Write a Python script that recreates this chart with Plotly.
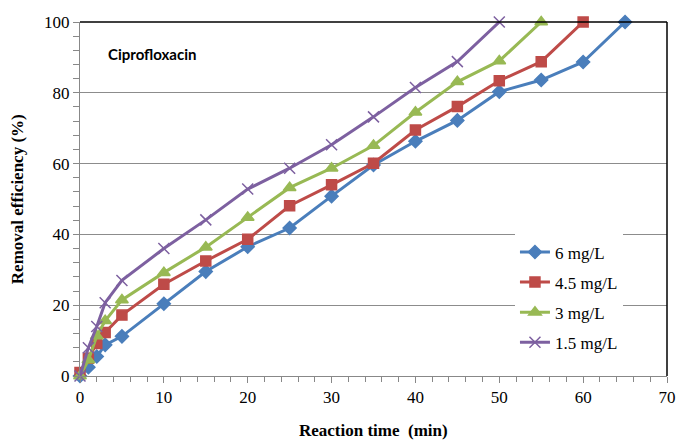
import plotly.graph_objects as go

time_6 = [0, 1, 2, 3, 5, 10, 15, 20, 25, 30, 35, 40, 45, 50, 55, 60, 65]
eff_6 = [0, 2.5, 5.5, 8.8, 11.2, 20.4, 29.5, 36.5, 41.8, 50.8, 59.6, 66.3, 72.2, 80.3, 83.6, 88.7, 100]

time_45 = [0, 1, 2, 3, 5, 10, 15, 20, 25, 30, 35, 40, 45, 50, 55, 60]
eff_45 = [1, 5, 9.2, 12.3, 17.2, 25.9, 32.5, 38.6, 48.1, 54, 60.1, 69.5, 76.1, 83.4, 88.8, 100]

time_3 = [0, 1, 2, 3, 5, 10, 15, 20, 25, 30, 35, 40, 45, 50, 55]
eff_3 = [0, 4.5, 11.3, 15.6, 21.5, 29.2, 36.4, 44.8, 53.2, 58.7, 65.1, 74.5, 83.1, 89, 100]

time_15 = [0, 1, 2, 3, 5, 10, 15, 20, 25, 30, 35, 40, 45, 50]
eff_15 = [0, 8, 14, 20.7, 27, 36, 44.1, 52.8, 58.7, 65.3, 73.2, 81.5, 88.8, 100]

series = [
    ("6 mg/L", time_6, eff_6, "#4A7EBB", "diamond", 10),
    ("4.5 mg/L", time_45, eff_45, "#BE4B48", "square", 10),
    ("3 mg/L", time_3, eff_3, "#98B954", "triangle-up", 11),
    ("1.5 mg/L", time_15, eff_15, "#7D60A0", "x-thin-open", 11),
]

fig = go.Figure()
for name, t, y, c, sym, sz in series:
    fig.add_trace(go.Scatter(
        x=t, y=y, name=name, mode="lines+markers", legendgroup=name,
        line=dict(color=c, width=3),
        marker=dict(symbol=sym, size=sz, color=c, line=dict(color=c, width=1.5)),
        cliponaxis=False,
    ))

serif = "Liberation Serif"
fig.update_layout(
    width=678, height=441,
    margin=dict(l=80, r=11, t=22, b=65),
    paper_bgcolor="white", plot_bgcolor="white",
    font=dict(family=serif, size=15, color="black"),
    showlegend=True,
    legend=dict(x=0.741, y=0.40, xanchor="left", yanchor="top",
                bgcolor="white", font=dict(family=serif, size=17, color="black"),
                tracegroupgap=5, itemwidth=30),
    xaxis=dict(range=[0, 70], dtick=10, showgrid=False, zeroline=False, automargin=False,
               showline=True, linecolor="#888888", linewidth=1,
               ticks="outside", ticklen=6, tickcolor="#888888",
               minor=dict(dtick=2, ticks="outside", ticklen=5, tickcolor="#888888"),
               tickfont=dict(family=serif, size=17)),
    yaxis=dict(range=[0, 100], dtick=20, showgrid=True, gridcolor="#8c8c8c", gridwidth=1,
               zeroline=False, automargin=False,
               showline=True, linecolor="#888888", linewidth=1,
               ticks="outside", ticklen=6, tickcolor="#888888",
               minor=dict(dtick=4, ticks="outside", ticklen=6, tickcolor="#888888", showgrid=False),
               tickfont=dict(family=serif, size=17)),
)

# frame top and right
fig.add_shape(type="line", xref="paper", yref="paper", x0=0, x1=1, y0=1, y1=1,
              line=dict(color="black", width=1.5))
fig.add_shape(type="line", xref="paper", yref="paper", x0=1, x1=1, y0=0, y1=1,
              line=dict(color="black", width=1.5))

# axis titles
fig.add_annotation(text="<b>Reaction time  (min)</b>", xref="paper", yref="paper",
                   x=0.5, y=-0.153, xanchor="center", yanchor="middle", showarrow=False,
                   font=dict(family=serif, size=17, color="black"))
fig.add_annotation(text="<b>Removal efficiency (%)</b>", xref="paper", yref="paper",
                   x=-0.107, y=0.5, xanchor="center", yanchor="middle", showarrow=False,
                   textangle=-90, font=dict(family=serif, size=17, color="black"))

fig.add_annotation(text="<b>Ciprofloxacin</b>", xref="paper", yref="paper",
                   x=0.045, y=0.91, xanchor="left", yanchor="middle", showarrow=False,
                   font=dict(family="Lato", size=15, color="black"))

fig.write_html("out.html")
